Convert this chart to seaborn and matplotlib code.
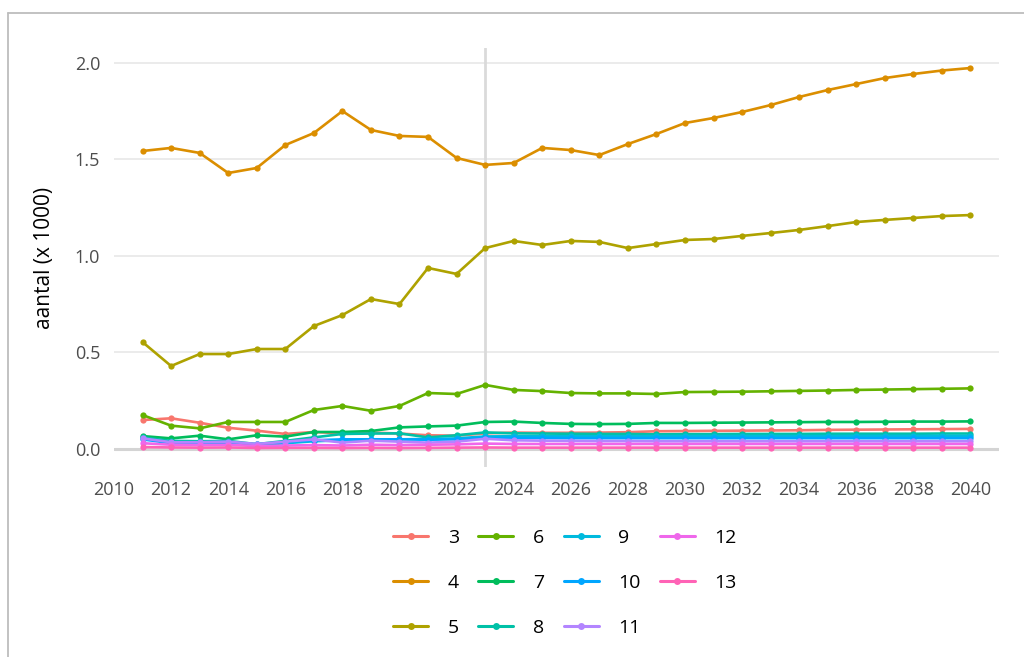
import pandas as pd
import numpy as np
import matplotlib
matplotlib.use('Agg')
import matplotlib.pyplot as plt
from matplotlib.lines import Line2D
import seaborn as sns

# ------------------------------------------------------------
# data (aantal x 1000, per groep)
# ------------------------------------------------------------
years = list(range(2011, 2041))
groups = ['3', '4', '5', '6', '7', '8', '9', '10', '11', '12', '13']

g3 = [0.150, 0.159, 0.136, 0.110, 0.095, 0.078, 0.088, 0.081, 0.085, 0.080,
      0.071, 0.069, 0.081, 0.085, 0.084, 0.084, 0.085, 0.087, 0.092, 0.093,
      0.094, 0.095, 0.096, 0.097, 0.099, 0.100, 0.101, 0.102, 0.103, 0.104]
g4 = [1.544, 1.560, 1.534, 1.430, 1.456, 1.575, 1.637, 1.751, 1.653, 1.622,
      1.617, 1.508, 1.472, 1.482, 1.560, 1.549, 1.523, 1.580, 1.632, 1.689,
      1.715, 1.746, 1.782, 1.824, 1.860, 1.891, 1.922, 1.943, 1.961, 1.974]
g5 = [0.554, 0.430, 0.492, 0.492, 0.518, 0.518, 0.637, 0.694, 0.777, 0.751,
      0.938, 0.907, 1.041, 1.078, 1.057, 1.078, 1.073, 1.041, 1.062, 1.083,
      1.088, 1.104, 1.119, 1.135, 1.155, 1.176, 1.187, 1.197, 1.207, 1.212]
g6 = [0.176, 0.121, 0.107, 0.140, 0.140, 0.140, 0.202, 0.223, 0.198, 0.223,
      0.290, 0.285, 0.332, 0.306, 0.300, 0.290, 0.288, 0.288, 0.285, 0.295,
      0.296, 0.297, 0.299, 0.301, 0.303, 0.306, 0.308, 0.310, 0.312, 0.314]
g7 = [0.067, 0.055, 0.069, 0.050, 0.071, 0.064, 0.088, 0.088, 0.093, 0.112,
      0.117, 0.121, 0.140, 0.142, 0.135, 0.130, 0.129, 0.130, 0.135, 0.135,
      0.136, 0.137, 0.138, 0.139, 0.140, 0.140, 0.141, 0.142, 0.142, 0.143]
g8 = [0.060, 0.042, 0.040, 0.042, 0.025, 0.042, 0.060, 0.078, 0.080, 0.081,
      0.060, 0.071, 0.086, 0.081, 0.080, 0.079, 0.078, 0.078, 0.076, 0.077,
      0.077, 0.078, 0.078, 0.078, 0.079, 0.079, 0.079, 0.079, 0.080, 0.080]
g9 = [0.055, 0.035, 0.035, 0.038, 0.020, 0.030, 0.040, 0.045, 0.048, 0.050,
      0.052, 0.055, 0.065, 0.066, 0.066, 0.066, 0.066, 0.066, 0.067, 0.067,
      0.067, 0.067, 0.067, 0.067, 0.067, 0.068, 0.068, 0.068, 0.068, 0.068]
g10 = [0.050, 0.030, 0.030, 0.030, 0.025, 0.035, 0.045, 0.050, 0.050, 0.050,
       0.048, 0.050, 0.058, 0.057, 0.057, 0.056, 0.056, 0.056, 0.056, 0.056,
       0.056, 0.056, 0.056, 0.056, 0.056, 0.056, 0.056, 0.056, 0.056, 0.056]
g11 = [0.055, 0.035, 0.035, 0.038, 0.026, 0.038, 0.050, 0.033, 0.043, 0.038,
       0.033, 0.038, 0.053, 0.045, 0.043, 0.042, 0.041, 0.041, 0.040, 0.040,
       0.040, 0.040, 0.040, 0.040, 0.040, 0.040, 0.040, 0.040, 0.040, 0.040]
g12 = [0.030, 0.022, 0.020, 0.022, 0.015, 0.018, 0.020, 0.018, 0.022, 0.020,
       0.022, 0.024, 0.028, 0.026, 0.026, 0.026, 0.026, 0.026, 0.026, 0.026,
       0.026, 0.026, 0.026, 0.026, 0.026, 0.026, 0.026, 0.026, 0.026, 0.026]
g13 = [0.010, 0.008, 0.007, 0.008, 0.005, 0.006, 0.006, 0.005, 0.006, 0.005,
       0.006, 0.007, 0.008, 0.007, 0.007, 0.007, 0.007, 0.007, 0.007, 0.007,
       0.007, 0.007, 0.007, 0.007, 0.007, 0.007, 0.007, 0.007, 0.007, 0.007]

series = [g3, g4, g5, g6, g7, g8, g9, g10, g11, g12, g13]

colors = ['#F8766D', '#DB8E00', '#AEA200', '#64B200', '#00BD5C', '#00C1A7',
          '#00BADE', '#00A6FF', '#B385FF', '#EF67EB', '#FF63B6']

x_ticks = list(range(2010, 2041, 2))
y_ticks = [0.0, 0.5, 1.0, 1.5, 2.0]
ref_year = 2023

df = pd.DataFrame({
    'jaar': years * len(groups),
    'groep': [g for g in groups for _ in years],
    'aantal': [v for s in series for v in s],
})

# ------------------------------------------------------------
# plot
# ------------------------------------------------------------
sns.set_theme(style='white')
plt.rcParams['font.family'] = ['Open Sans', 'DejaVu Sans']

fig = plt.figure(figsize=(10.24, 6.57), dpi=100)
ax = fig.add_axes([114 / 1024, 1 - 467 / 657, 885 / 1024, 419 / 657])

ax.axvline(ref_year, color='#DADADA', lw=2, zorder=1)
ax.axhline(0, color='#D4D4D4', lw=2.2, zorder=1)

sns.lineplot(data=df, x='jaar', y='aantal', hue='groep', hue_order=groups,
             palette=colors, marker='o', markersize=4.5, markeredgewidth=0,
             linewidth=1.9, legend=False, ax=ax, zorder=3)

ax.set_xlim(2010, 2041)
ax.set_ylim(-0.0933, 2.0777)
ax.set_xticks(x_ticks)
ax.set_yticks(y_ticks)
ax.set_yticklabels([f'{v:.1f}' for v in y_ticks])
ax.grid(axis='y', color='#EBEBEB', lw=1.4, zorder=0)
ax.grid(axis='x', visible=False)
ax.set_axisbelow(True)
for sp in ax.spines.values():
    sp.set_visible(False)

ax.tick_params(axis='both', length=0, labelsize=13, labelcolor='#4D4D4D', pad=10)
ax.set_xlabel('')
ax.set_ylabel('aantal (x 1000)', fontsize=15, color='black', labelpad=14)

handles = [Line2D([0], [0], color=c, lw=2.2, marker='o', markersize=5,
                  markeredgewidth=0) for c in colors]
fig.legend(handles, groups, loc='center', bbox_to_anchor=(565 / 1024, 1 - 583 / 657),
           ncol=4, frameon=False, fontsize=14, handlelength=1.8,
           handletextpad=1.0, columnspacing=1.0, labelspacing=1.4,
           labelcolor='black')

# outer border (only left and top visible in the crop)
fig.add_artist(Line2D([8 / 1024, 8 / 1024], [0, 1 - 13 / 657],
                      transform=fig.transFigure, color='#BDBDBD', lw=1.3))
fig.add_artist(Line2D([8 / 1024, 1], [1 - 13 / 657, 1 - 13 / 657],
                      transform=fig.transFigure, color='#BDBDBD', lw=1.3))

fig.savefig('out.png', dpi=100)
